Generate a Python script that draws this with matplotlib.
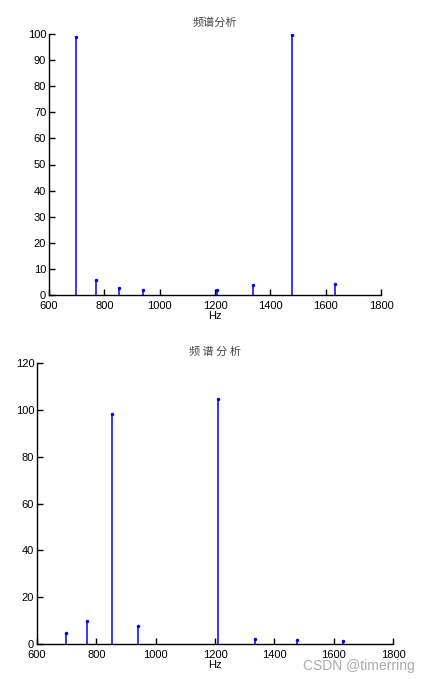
import matplotlib
matplotlib.use("Agg")
import matplotlib.pyplot as plt

freqs = [697, 770, 852, 941, 1209, 1336, 1477, 1633]
top_vals = [98.9, 5.9, 2.8, 1.8, 1.8, 3.7, 99.6, 4.3]
bottom_vals = [4.8, 9.7, 98.2, 7.5, 104.7, 2.3, 1.6, 1.3]

top_title = "频谱分析"
bottom_title = "频 谱 分 析"
xlabel = "Hz"
xticks = [600, 800, 1000, 1200, 1400, 1600, 1800]
top_yticks = [0, 10, 20, 30, 40, 50, 60, 70, 80, 90, 100]
bottom_yticks = [0, 20, 40, 60, 80, 100, 120]

plt.rcParams['font.family'] = ['Liberation Sans', 'DejaVu Sans']

fig = plt.figure(figsize=(4.3, 6.79), dpi=100)
ax1 = fig.add_axes([49/430, 1-295/679, (381-49)/430, (295-34)/679])
ax2 = fig.add_axes([37/430, 1-644/679, (393-37)/430, (644-363)/679])

def style(ax, vals, yticks, title, ylim):
    ml, sl, bl = ax.stem(freqs, vals, linefmt='b-', markerfmt='b.', basefmt=' ')
    plt.setp(sl, linewidth=1.1)
    plt.setp(ml, markersize=3)
    ax.set_xlim(600, 1800)
    ax.set_ylim(*ylim)
    ax.set_xticks(xticks)
    ax.set_yticks(yticks)
    for s in ['top', 'right']:
        ax.spines[s].set_visible(False)
    for s in ['left', 'bottom']:
        ax.spines[s].set_linewidth(1.0)
    ax.tick_params(direction='in', length=4, width=1.0, labelsize=8)
    ax.tick_params(axis='x', pad=4)
    ax.tick_params(axis='y', pad=2)
    for lab in ax.get_yticklabels():
        lab.set_verticalalignment('center_baseline')
    ax.set_title(title, family=['Noto Sans CJK SC', 'DejaVu Sans'], fontsize=8,
                 color='#444444', pad=6)
    ax.set_xlabel(xlabel, fontsize=8, labelpad=0)

style(ax1, top_vals, top_yticks, top_title, (0, 100))
style(ax2, bottom_vals, bottom_yticks, bottom_title, (0, 120))

fig.text(415/430, 1-666/679, "CSDN @timerring", ha='right', va='center',
         fontsize=10, color='#aaaaaa')

fig.savefig("out.png", dpi=100)
